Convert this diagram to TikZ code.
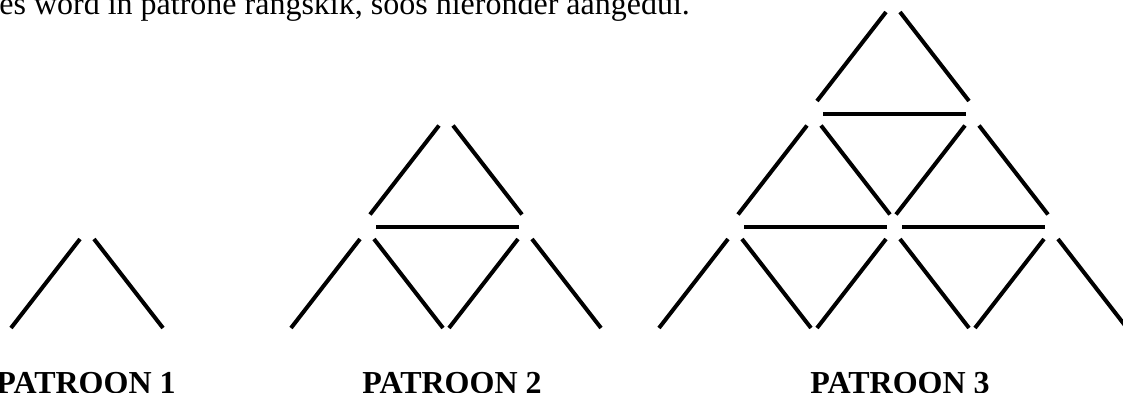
\documentclass[tikz,border=0pt]{standalone}
\usepackage{fontspec}
\setmainfont{Liberation Serif}
\usetikzlibrary{calc}

\begin{document}
\begin{tikzpicture}[
    x=0.5pt, y=-0.5pt,
    every node/.style={font=\fontsize{16}{19}\selectfont, inner sep=0pt},
    stick/.style={line width=2pt, black},
    patlabel/.style={anchor=base, font=\fontsize{16}{19}\selectfont\bfseries}
  ]
    \useasboundingbox (0,0) rectangle (1123,392);
    \clip (0,0) rectangle (1123,392);
    \node[anchor=base west] (intro) at (-1,14) {es word in patrone rangskik, soos hieronder aangedui.};
    % one upward triangle per apex: two slanted sticks, and a base stick unless in the last row
    \foreach \ax/\ay/\n in {87/230/1, 446/116.5/2, 893/3/3}{
      \foreach \r in {1,...,\n}{
        \foreach \k in {1,...,\r}{
          \coordinate (v) at ({\ax+(2*\k-\r-1)*79}, {\ay+(\r-1)*113.5});
          \draw[stick] ($(v)+(-7,9)$) -- ($(v)+(-76,98)$);
          \draw[stick] ($(v)+(7,9)$) -- ($(v)+(76,98)$);
          \ifnum\r<\n
            \draw[stick] ($(v)+(-70,110.5)$) -- ($(v)+(73,110.5)$);
          \fi
        }
      }
    }
    \node[patlabel] (lab1) at (86,393) {PATROON 1};
    \node[patlabel] (lab2) at (452,393) {PATROON 2};
    \node[patlabel] (lab3) at (900,393) {PATROON 3};
  \end{tikzpicture}
\end{document}
